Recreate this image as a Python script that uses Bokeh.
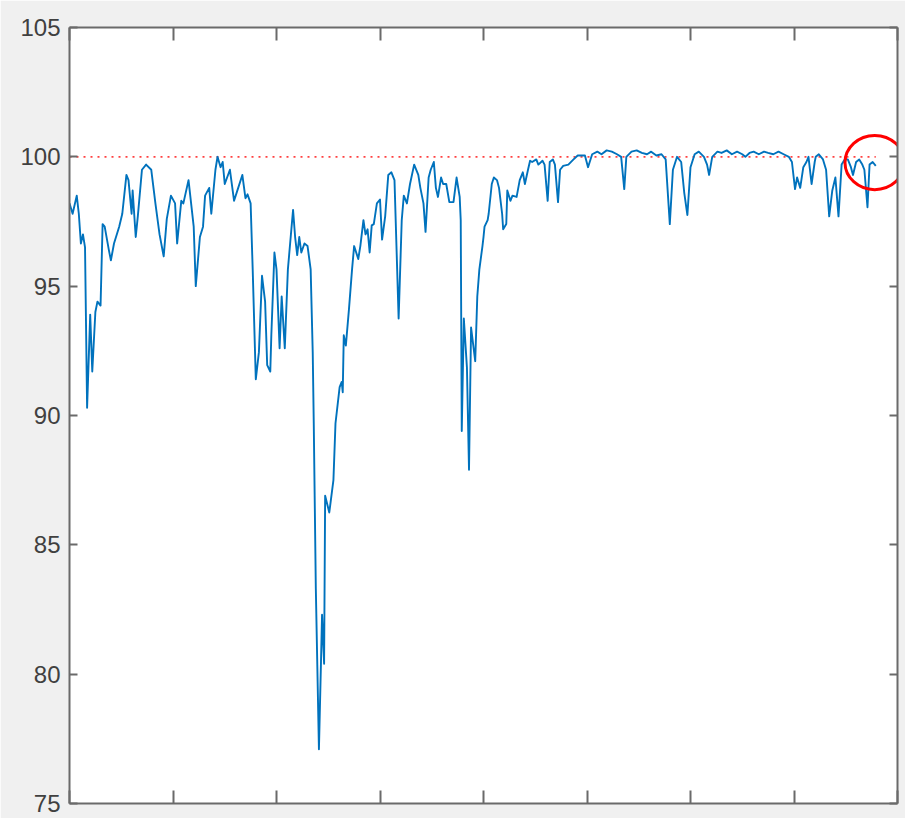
from bokeh.plotting import figure
from bokeh.models import Range1d, FixedTicker, LinearAxis
from bokeh.embed import file_html
from bokeh.resources import INLINE

# ---- data ----
sample = [0, 3, 7, 9, 11, 13, 15, 17, 20, 22, 25, 27, 30, 32, 34, 38, 40, 43, 48, 51,
          55, 57, 60, 61, 64, 66, 70, 74, 79, 83, 87, 91, 94, 98, 102, 104, 108, 110, 115, 120,
          122, 126, 129, 131, 135, 137, 141, 143, 146, 148, 150, 155, 159, 163, 167, 170, 172, 175, 177, 180,
          183, 186, 189, 191, 194, 195, 198, 200, 203, 205, 208, 211, 216, 218, 220, 222, 224, 227, 230, 233,
          235, 236, 238, 241, 243, 244, 246, 247, 251, 255, 257, 261, 263, 264, 265, 267, 270, 273, 275, 279,
          281, 284, 286, 288, 290, 292, 294, 297, 300, 302, 305, 308, 311, 314, 318, 321, 323, 326, 329, 333,
          337, 339, 342, 344, 347, 349, 352, 354, 356, 359, 361, 364, 367, 371, 374, 377, 378, 379, 381, 384,
          386, 388, 390, 392, 394, 396, 399, 400, 401, 404, 405, 408, 410, 413, 415, 418, 419, 422, 423, 426,
          428, 432, 435, 438, 440, 443, 445, 447, 451, 453, 457, 459, 462, 464, 467, 469, 472, 474, 477, 482,
          487, 491, 498, 501, 505, 510, 514, 519, 524, 529, 533, 536, 538, 543, 548, 553, 558, 562, 567, 572,
          576, 580, 583, 587, 591, 594, 597, 600, 604, 608, 613, 616, 618, 621, 626, 630, 635, 640, 645, 650,
          653, 657, 661, 666, 671, 675, 680, 685, 690, 695, 698, 701, 703, 706, 709, 712, 714, 717, 720, 721,
          724, 728, 731, 734, 737, 740, 743, 746, 749, 752, 755, 757, 760, 763, 766, 768, 771, 773, 776, 779]

level = [98.2, 97.8, 98.5, 97.8, 96.65, 97.0, 96.5, 90.3, 93.9, 91.7, 94.0, 94.4, 94.25, 97.4, 97.3, 96.4, 96.0, 96.65, 97.3, 97.8,
         99.3, 99.1, 97.8, 98.7, 96.9, 97.7, 99.5, 99.7, 99.5, 98.2, 97.0, 96.15, 97.6, 98.5, 98.2, 96.65, 98.3, 98.2, 99.1, 97.3,
         95.0, 96.9, 97.3, 98.5, 98.8, 97.8, 99.5, 100.0, 99.6, 99.8, 98.95, 99.5, 98.3, 98.8, 99.3, 98.4, 98.55, 98.2, 95.65, 91.4,
         92.45, 95.4, 94.4, 91.95, 91.7, 93.1, 96.3, 95.65, 92.6, 94.6, 92.6, 95.65, 97.95, 96.9, 96.2, 96.9, 96.3, 96.65, 96.55, 95.65,
         92.45, 89.7, 83.3, 77.1, 80.5, 82.3, 80.4, 86.9, 86.25, 87.5, 89.7, 91.1, 91.3, 90.9, 93.1, 92.7, 94.1, 95.65, 96.55, 96.05,
         96.55, 97.55, 97.0, 97.2, 96.3, 97.35, 97.4, 98.2, 98.35, 96.8, 97.7, 99.3, 99.4, 99.1, 93.75, 97.55, 98.5, 98.2, 98.95, 99.7,
         99.3, 98.8, 98.2, 97.1, 99.2, 99.5, 99.8, 98.8, 98.45, 99.2, 98.95, 98.95, 98.25, 98.25, 99.2, 98.45, 97.55, 89.4, 93.75, 91.85,
         87.9, 93.4, 92.75, 92.1, 94.6, 95.65, 96.55, 96.9, 97.3, 97.55, 97.8, 98.95, 99.2, 99.1, 98.8, 97.8, 97.2, 97.4, 98.7, 98.3,
         98.5, 98.45, 99.1, 99.4, 98.95, 99.5, 99.85, 99.8, 99.9, 99.7, 99.85, 99.7, 98.3, 99.8, 99.9, 99.7, 98.25, 99.5, 99.65, 99.7,
         99.9, 100.05, 100.05, 99.6, 100.1, 100.2, 100.1, 100.25, 100.2, 100.1, 100.0, 98.75, 100.0, 100.2, 100.25, 100.15, 100.1, 100.2, 100.05, 100.1,
         99.9, 97.4, 99.5, 100.0, 99.8, 98.6, 97.75, 99.6, 100.1, 100.2, 100.0, 99.7, 99.3, 100.0, 100.2, 100.15, 100.25, 100.1, 100.2, 100.1,
         100.0, 100.15, 100.2, 100.1, 100.2, 100.15, 100.1, 100.2, 100.1, 100.0, 99.8, 98.75, 99.2, 98.8, 99.6, 99.8, 100.0, 98.95, 99.8, 100.0,
         100.1, 99.9, 99.5, 97.7, 98.7, 99.2, 97.7, 99.7, 99.9, 99.9, 99.6, 99.3, 99.8, 99.9, 99.7, 99.5, 98.05, 99.7, 99.8, 99.65]

target_x = [0, 779]
target_y = [100, 100]

y_ticks = [75, 80, 85, 90, 95, 100, 105]
x_ticks = [0, 100, 200, 300, 400, 500, 600, 700, 800]

# highlight ellipse (annotation)
mark_x, mark_y, mark_w, mark_h = 778, 99.78, 57.5, 2.1

AXIS_COLOR = "#6a6a6a"
LABEL_COLOR = "#404040"
BG = "#f0f0f0"

p = figure(width=905, height=818, output_backend="svg", toolbar_location=None,
           x_range=Range1d(0, 800), y_range=Range1d(75, 105),
           x_axis_location=None, y_axis_location=None,
           min_border_left=69, min_border_top=27, min_border_right=8, min_border_bottom=15,
           background_fill_color="white", border_fill_color=BG, outline_line_color=None)
p.grid.visible = False

def make_axis(ticks, labels, tick_in):
    ax = LinearAxis(ticker=FixedTicker(ticks=ticks))
    ax.axis_line_color = AXIS_COLOR
    ax.axis_line_width = 2
    ax.major_tick_line_color = AXIS_COLOR
    ax.major_tick_line_width = 2
    ax.major_tick_in = tick_in
    ax.major_tick_out = 0
    ax.minor_tick_line_color = None
    if labels:
        ax.major_label_text_font = "Liberation Sans"
        ax.major_label_text_font_size = "24px"
        ax.major_label_text_color = LABEL_COLOR
        ax.major_label_standoff = 9
    else:
        ax.major_label_text_font_size = "0px"
        ax.major_label_text_color = None
        ax.major_label_standoff = 0
    return ax

p.add_layout(make_axis(y_ticks, True, 8), "left")
p.add_layout(make_axis(y_ticks, False, 8), "right")
p.add_layout(make_axis(x_ticks, False, 13), "below")
p.add_layout(make_axis(x_ticks, False, 13), "above")

p.line(target_x, target_y, line_color="#ff0000", line_alpha=0.75, line_width=1.6, line_dash="2 5")
p.line(sample, level, line_color="#0072BD", line_width=1.9, line_join="round")

p.ellipse(x=[mark_x], y=[mark_y], width=[mark_w], height=[mark_h],
          fill_color=None, line_color="#ff0000", line_width=3)

open("out.html", "w").write(file_html(p, INLINE))
